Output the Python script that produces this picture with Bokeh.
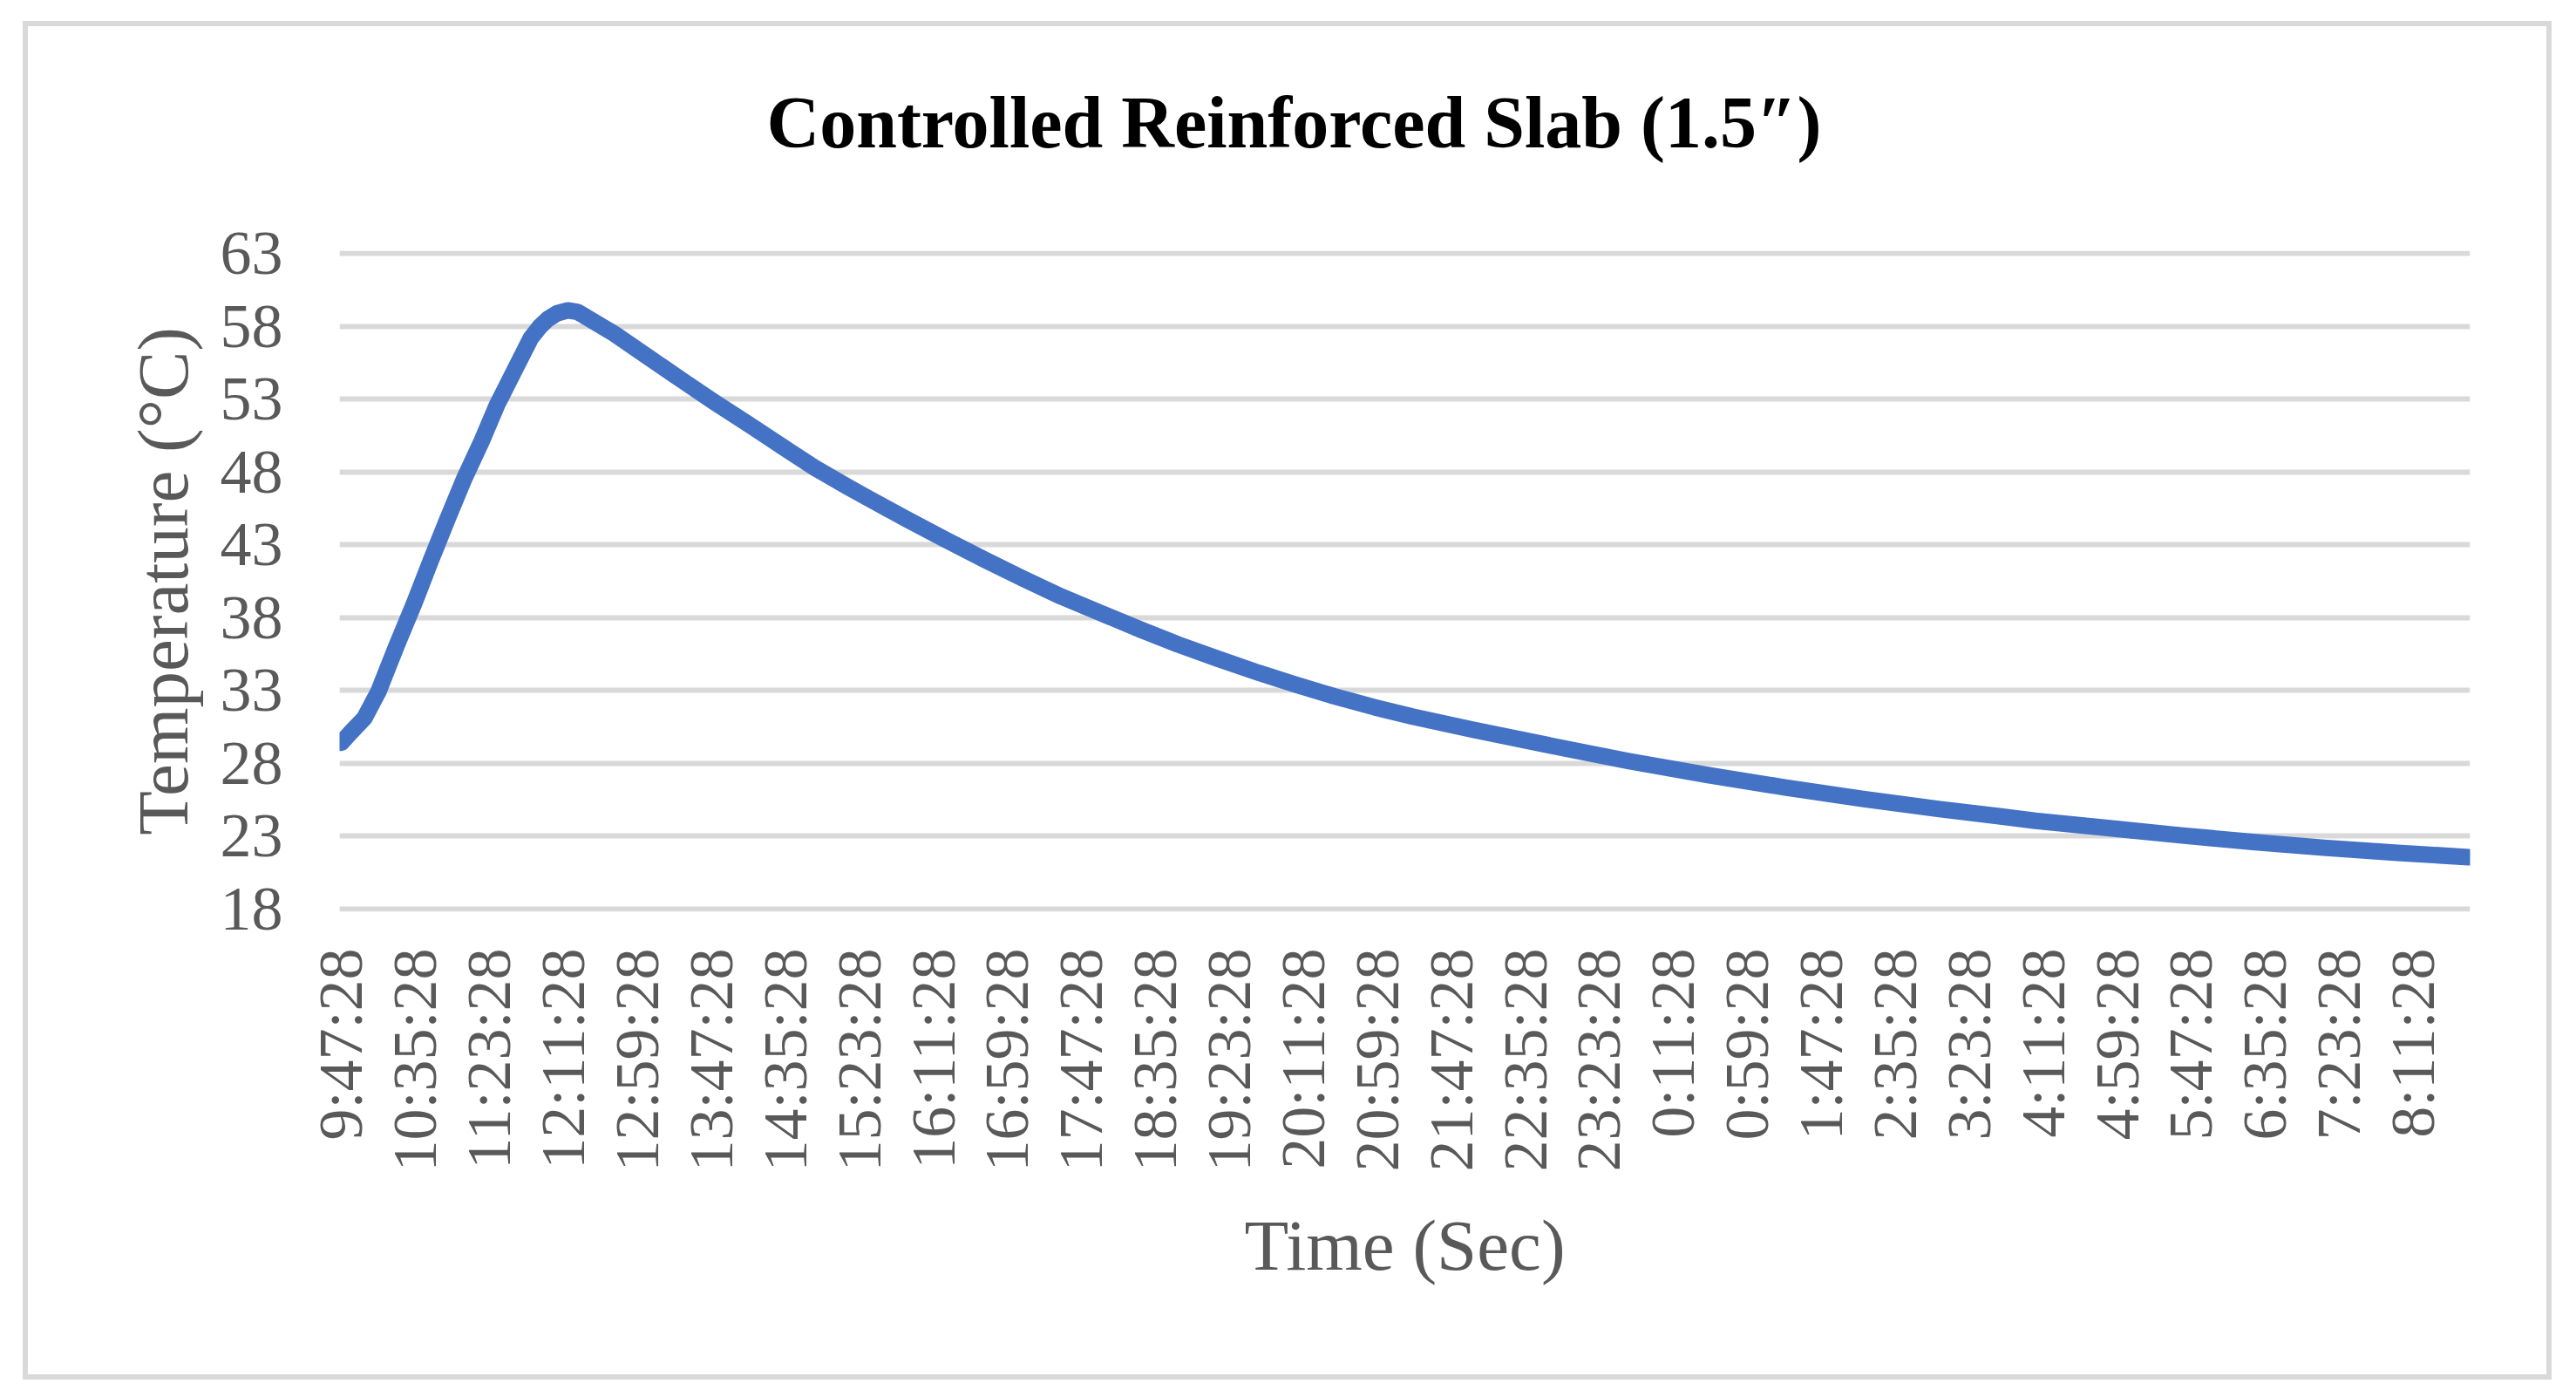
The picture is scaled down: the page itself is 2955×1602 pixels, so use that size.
import math
from bokeh.plotting import figure
from bokeh.models import Range1d, FixedTicker, Title
from bokeh.embed import file_html
from bokeh.resources import INLINE

# ---- data ----
time_min = [0, 6, 15, 24, 36, 47, 58, 69, 80, 91, 101, 112, 123, 129, 134, 140,
            147, 153, 158, 177, 199, 221, 242, 264, 286, 307, 329, 341, 366, 392,
            417, 442, 467, 493, 518, 543, 568, 594, 619, 644, 670, 695, 734, 785,
            835, 886, 936, 987, 1037, 1080, 1099, 1146, 1193, 1240, 1286, 1334, 1380]
temperature = [29.4, 30.1, 31.1, 32.9, 36.1, 38.9, 41.9, 44.8, 47.6, 50.1, 52.6,
               54.9, 57.2, 58.0, 58.5, 58.9, 59.1, 59.0, 58.7, 57.5, 55.9, 54.3,
               52.8, 51.3, 49.75, 48.3, 46.95, 46.25, 44.8, 43.35, 42.0, 40.7, 39.45,
               38.3, 37.2, 36.15, 35.2, 34.25, 33.4, 32.6, 31.85, 31.2, 30.3, 29.2,
               28.15, 27.2, 26.35, 25.55, 24.85, 24.3, 24.05, 23.55, 23.05, 22.6,
               22.2, 21.85, 21.55]

x_tick_minutes = [i * 48 for i in range(29)]
x_tick_labels = ["9:47:28", "10:35:28", "11:23:28", "12:11:28", "12:59:28",
                 "13:47:28", "14:35:28", "15:23:28", "16:11:28", "16:59:28",
                 "17:47:28", "18:35:28", "19:23:28", "20:11:28", "20:59:28",
                 "21:47:28", "22:35:28", "23:23:28", "0:11:28", "0:59:28",
                 "1:47:28", "2:35:28", "3:23:28", "4:11:28", "4:59:28",
                 "5:47:28", "6:35:28", "7:23:28", "8:11:28"]
y_ticks = [18, 23, 28, 33, 38, 43, 48, 53, 58, 63]

title_text = "Controlled Reinforced Slab (1.5\u2033)"
x_title = "Time (Sec)"
y_title = "Temperature (\u00b0C)"

FONT = "Liberation Serif"
GREY = "#595959"

p = figure(width=2889, height=1546, output_backend="svg", toolbar_location=None,
           x_range=Range1d(-1.13, 1381.0), y_range=Range1d(17.805, 63.195),
           min_border_left=357, min_border_right=88,
           min_border_top=257, min_border_bottom=531, title=None)
p.margin = (30, 0, 0, 32)
p.styles = {"outline": "6px solid #d9d9d9"}
p.outline_line_color = None
p.background_fill_color = "white"
p.border_fill_color = "white"

# spacer between plot area and chart title (keeps the title high above the grid)
p.add_layout(Title(text=" ", text_font_size="1px", standoff=93), "above")
p.add_layout(Title(text=title_text, text_font=FONT, text_font_size="84px",
                   text_font_style="bold", text_color="black",
                   align="left", offset=490, standoff=10), "above")

p.line(time_min, temperature, line_color="#4472C4", line_width=19,
       line_join="round", line_cap="round")

p.xgrid.visible = False
p.ygrid.grid_line_color = "#d9d9d9"
p.ygrid.grid_line_width = 6

for ax in (p.xaxis[0], p.yaxis[0]):
    ax.axis_line_color = None
    ax.major_tick_line_color = None
    ax.minor_tick_line_color = None
    ax.major_tick_out = 0
    ax.major_tick_in = 0
    ax.major_label_text_font = FONT
    ax.major_label_text_font_size = "72px"
    ax.major_label_text_color = GREY
    ax.axis_label_text_font = FONT
    ax.axis_label_text_font_size = "83px"
    ax.axis_label_text_font_style = "normal"
    ax.axis_label_text_color = GREY

p.yaxis.ticker = FixedTicker(ticks=y_ticks, minor_ticks=[])
p.yaxis.major_label_standoff = 65
p.yaxis.axis_label = y_title
p.yaxis.axis_label_standoff = 17

p.xaxis.ticker = FixedTicker(ticks=x_tick_minutes, minor_ticks=[])
p.xaxis.major_label_overrides = dict(zip(x_tick_minutes, x_tick_labels))
p.xaxis.major_label_orientation = math.pi / 2
p.xaxis.major_label_standoff = 42
p.xaxis.axis_label = x_title
p.xaxis.axis_label_standoff = 35

open("out.html", "w").write(file_html(p, INLINE))
